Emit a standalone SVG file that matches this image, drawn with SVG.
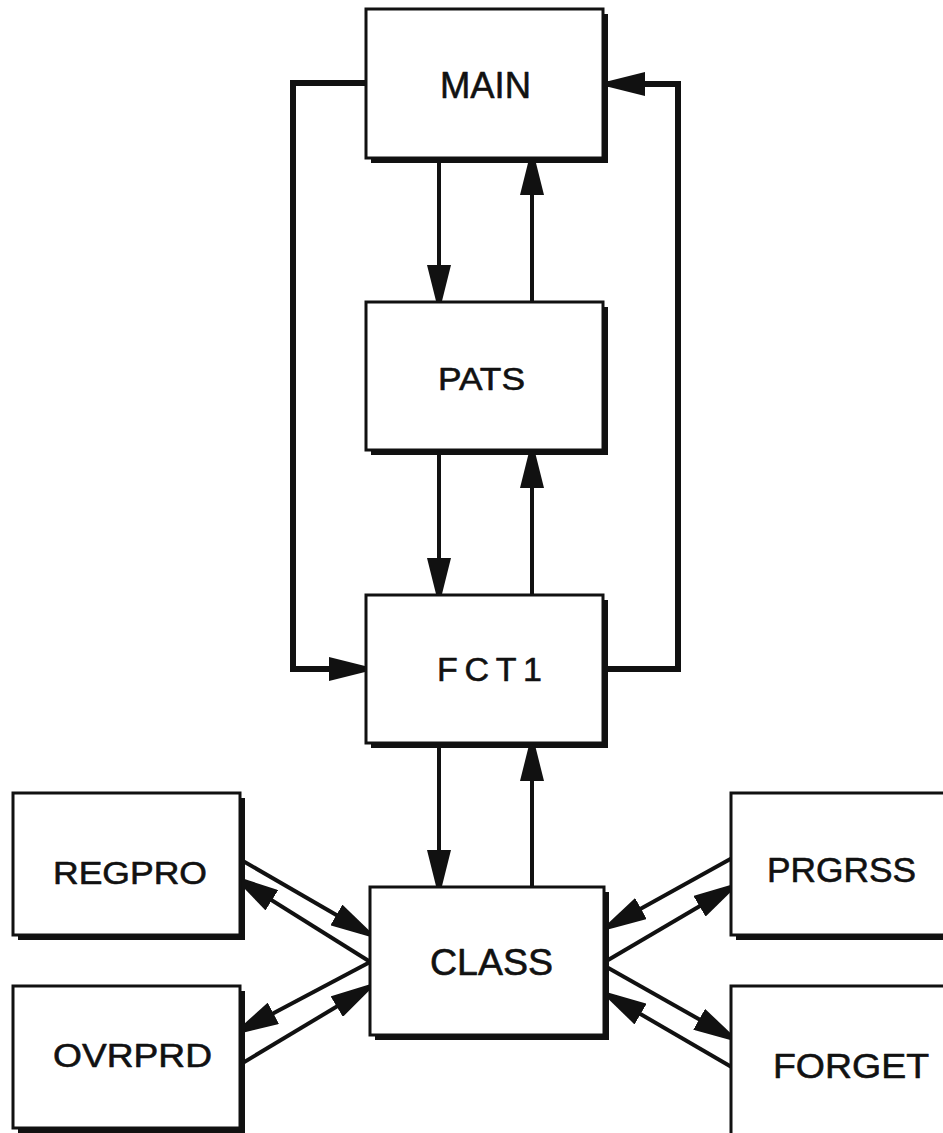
<svg xmlns="http://www.w3.org/2000/svg" width="943" height="1133" viewBox="0 0 943 1133">
  <style>
    .box { fill: #fff; stroke: #111; stroke-width: 3; }
    .shadow { fill: #111; }
    .label { font-family: "Liberation Sans", Arial, sans-serif; fill: #111; stroke: #111; stroke-width: 0.6; stroke-linejoin: round; }
    .flow { fill: none; stroke: #111; stroke-width: 4; marker-end: url(#arrow); }
    .loop { fill: none; stroke: #111; stroke-width: 6; stroke-linejoin: miter; marker-end: url(#arrow); }
  </style>
  <defs>
    <marker id="arrow" markerUnits="userSpaceOnUse" viewBox="0 0 40 24" markerWidth="40" markerHeight="24" refX="40" refY="12" orient="auto">
      <path d="M0,0 L40,10 L40,14 L0,24 Z" fill="#111"/>
    </marker>
  </defs>

  <rect width="943" height="1133" fill="#fff"/>

  <!-- connectors (drawn first; box faces hide their ends) -->
  <g id="connectors">
    <!-- MAIN / PATS -->
    <path class="flow" d="M439,160 L439,305"/>
    <path class="flow" d="M532,304 L532,155"/>
    <!-- PATS / FCT1 -->
    <path class="flow" d="M439,452 L439,598"/>
    <path class="flow" d="M532,597 L532,448"/>
    <!-- FCT1 / CLASS -->
    <path class="flow" d="M439,745 L439,890"/>
    <path class="flow" d="M532,889 L532,741"/>
    <!-- outer loops -->
    <path class="loop" d="M368,83 L293,83 L293,669 L369,669"/>
    <path class="loop" d="M601,669 L678,669 L678,84 L605,84"/>
    <!-- REGPRO / OVRPRD with CLASS -->
    <path class="flow" d="M236,857 L371,935"/>
    <path class="flow" d="M372,963 L238,879"/>
    <path class="flow" d="M372,961 L238,1032"/>
    <path class="flow" d="M236,1067 L371,986"/>
    <!-- PRGRSS / FORGET with CLASS -->
    <path class="flow" d="M734,857 L606,928"/>
    <path class="flow" d="M603,963 L734,886"/>
    <path class="flow" d="M603,965 L734,1039"/>
    <path class="flow" d="M735,1069 L606,994"/>
  </g>

  <g id="main">
    <rect class="shadow" x="371" y="14" width="237" height="149"/>
    <rect class="box" x="366" y="9" width="237" height="149"/>
    <text class="label" x="440" y="98" font-size="37" textLength="91" lengthAdjust="spacingAndGlyphs">MAIN</text>
  </g>

  <g id="pats">
    <rect class="shadow" x="371" y="307" width="237" height="148"/>
    <rect class="box" x="366" y="302" width="237" height="148"/>
    <text class="label" x="438" y="390" font-size="32" textLength="87" lengthAdjust="spacingAndGlyphs">PATS</text>
  </g>

  <g id="fct1">
    <rect class="shadow" x="371" y="600" width="237" height="148"/>
    <rect class="box" x="366" y="595" width="237" height="148"/>
    <text class="label" x="437" y="681" font-size="34" textLength="105" lengthAdjust="spacing">FCT1</text>
  </g>

  <g id="class">
    <rect class="shadow" x="375" y="892" width="234" height="148"/>
    <rect class="box" x="370" y="887" width="234" height="148"/>
    <text class="label" x="430" y="975" font-size="36" textLength="123" lengthAdjust="spacingAndGlyphs">CLASS</text>
  </g>

  <g id="regpro">
    <rect class="shadow" x="18" y="798" width="227" height="142"/>
    <rect class="box" x="13" y="793" width="227" height="142"/>
    <text class="label" x="53" y="884" font-size="32" textLength="154" lengthAdjust="spacingAndGlyphs">REGPRO</text>
  </g>

  <g id="ovrprd">
    <rect class="shadow" x="18" y="991" width="227" height="142"/>
    <rect class="box" x="13" y="986" width="227" height="142"/>
    <text class="label" x="53" y="1067" font-size="33" textLength="159" lengthAdjust="spacingAndGlyphs">OVRPRD</text>
  </g>

  <g id="prgrss">
    <rect class="shadow" x="736" y="798" width="240" height="142"/>
    <rect class="box" x="731" y="793" width="240" height="142"/>
    <text class="label" x="767" y="882" font-size="35" textLength="149" lengthAdjust="spacingAndGlyphs">PRGRSS</text>
  </g>

  <g id="forget">
    <rect class="shadow" x="736" y="991" width="240" height="160"/>
    <rect class="box" x="731" y="986" width="240" height="160"/>
    <text class="label" x="773" y="1078" font-size="35" textLength="156" lengthAdjust="spacingAndGlyphs">FORGET</text>
  </g>
</svg>
